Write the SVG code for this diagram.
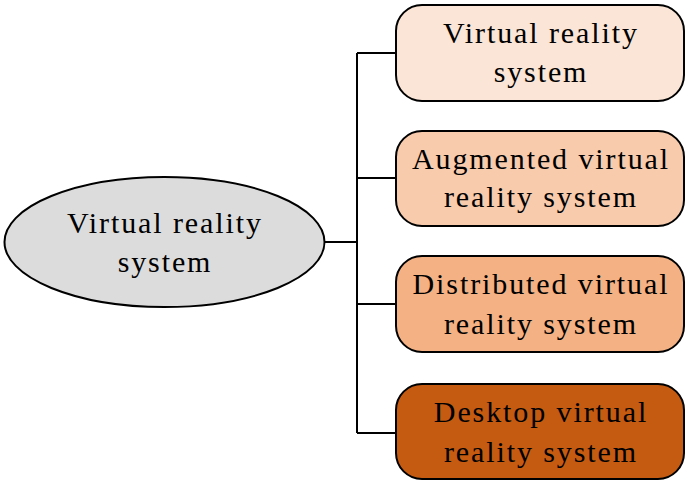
<svg xmlns="http://www.w3.org/2000/svg" width="690" height="486" viewBox="0 0 690 486">
<style>
.n{stroke:#000;stroke-width:2}
.t{font-family:"Liberation Serif","Times New Roman",serif;font-size:30px;letter-spacing:1.9px;text-anchor:middle;fill:#000}
.c{fill:none;stroke:#000;stroke-width:2}
</style>
<rect width="690" height="486" fill="#fff"/>
<g id="connectors">
<path class="c" d="M324,242 H357 M357,53 V433 M357,53 H396 M357,178 H396 M357,304 H396 M357,433 H396"/>
</g>
<g id="root">
<ellipse class="n" cx="164.5" cy="242" rx="160" ry="65" fill="#DCDCDC"/>
<text class="t" x="165" y="233">Virtual reality</text>
<text class="t" x="165" y="272">system</text>
</g>
<g id="vr">
<rect class="n" x="396" y="5" width="288" height="96" rx="26" fill="#FBE5D6"/>
<text class="t" x="541" y="43">Virtual reality</text>
<text class="t" x="541" y="82">system</text>
</g>
<g id="avr">
<rect class="n" x="396" y="131" width="288" height="95" rx="26" fill="#F8CBAD"/>
<text class="t" x="541" y="169">Augmented virtual</text>
<text class="t" x="541" y="207">reality system</text>
</g>
<g id="dvr">
<rect class="n" x="396" y="256" width="288" height="96" rx="26" fill="#F4B183"/>
<text class="t" x="541" y="294">Distributed virtual</text>
<text class="t" x="541" y="334">reality system</text>
</g>
<g id="desk">
<rect class="n" x="396" y="384" width="288" height="95" rx="26" fill="#C55A11"/>
<text class="t" x="541" y="422">Desktop virtual</text>
<text class="t" x="541" y="462">reality system</text>
</g>
</svg>
